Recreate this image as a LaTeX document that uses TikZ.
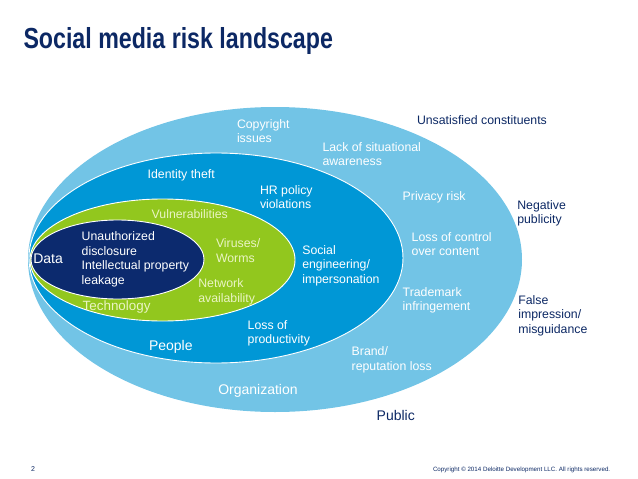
\documentclass[tikz,border=0pt]{standalone}
\usepackage{fontspec}
\setmainfont{Liberation Sans}
\definecolor{orgblue}{RGB}{114,196,230}
\definecolor{peopleblue}{RGB}{0,151,214}
\definecolor{techgreen}{RGB}{146,199,30}
\definecolor{datanavy}{RGB}{12,42,110}
\definecolor{navytext}{RGB}{12,40,100}
\definecolor{palegreen}{RGB}{234,244,196}
\newcommand{\mlines}[1]{\begin{tabular}[t]{@{}l@{}}#1\end{tabular}}
\tikzset{
  lbl/.style={anchor=base west, inner sep=0pt, outer sep=0pt, text=white,
    font=\fontsize{12.3}{14.5}\selectfont},
  biglbl/.style={lbl, font=\fontsize{14}{16}\selectfont},
  navylbl/.style={lbl, text=navytext},
  palelbl/.style={lbl, text=palegreen},
  ring/.style={draw=white, line width=0.9pt}
}
\begin{document}
\begin{tikzpicture}[x=1pt,y=-1pt]
\useasboundingbox (0,0) rectangle (638,479);
% title
\node[anchor=base west, inner sep=0pt, text=navytext,
  font=\fontsize{29}{32}\selectfont\bfseries] (title) at (23.3,48.3)
  {\scalebox{0.8}[1]{Social media risk landscape}};
% nested ellipses
\fill[orgblue] (275,259.5) ellipse [x radius=247pt, y radius=152.5pt];
\fill[peopleblue, ring] (216,258) ellipse [x radius=187pt, y radius=105pt];
\fill[techgreen, ring] (162.5,260) ellipse [x radius=132.5pt, y radius=61pt];
\fill[datanavy, ring] (117.5,259.5) ellipse [x radius=86.5pt, y radius=39.5pt];
% organization ring labels
\node[lbl] (copyright) at (237,128) {\mlines{Copyright\\issues}};
\node[lbl] (lack) at (322.5,151) {\mlines{Lack of situational\\awareness}};
\node[lbl] (privacy) at (402.7,200) {Privacy risk};
\node[lbl] (control) at (411.7,241) {\mlines{Loss of control\\over content}};
\node[lbl] (trademark) at (402.7,296) {\mlines{Trademark\\infringement}};
\node[lbl] (brand) at (351.7,355.7) {\mlines{Brand/\\reputation loss}};
\node[biglbl] (organization) at (218.3,394.3) {Organization};
% people ring labels
\node[lbl] (identity) at (147.7,178.3) {Identity theft};
\node[lbl] (hr) at (260,194.3) {\mlines{HR policy\\violations}};
\node[lbl] (social) at (302.3,254.3) {\mlines{Social\\engineering/\\impersonation}};
\node[lbl] (productivity) at (247.7,329.3) {\mlines{Loss of\\productivity}};
\node[biglbl] (people) at (149,350) {People};
% technology ring labels
\node[palelbl] (vuln) at (151.7,218.5) {Vulnerabilities};
\node[palelbl] (viruses) at (216,247.7) {\mlines{Viruses/\\Worms}};
\node[palelbl] (network) at (198.3,287.7) {\mlines{Network\\availability}};
\node[palelbl, font=\fontsize{13.4}{15}\selectfont] (technology) at (82.7,310.7) {Technology};
% data labels
\node[lbl] (unauth) at (81.7,240.7) {\mlines{Unauthorized\\disclosure\\Intellectual property\\leakage}};
\node[biglbl] (data) at (33.3,263.3) {Data};
% public labels
\node[navylbl] (unsatisfied) at (417,124.3) {Unsatisfied constituents};
\node[navylbl] (negative) at (517.3,209) {\mlines{Negative\\publicity}};
\node[navylbl] (false) at (518.3,304.3) {\mlines{False\\impression/\\misguidance}};
\node[navylbl, font=\fontsize{14}{16}\selectfont] (public) at (376.7,420.7) {Public};
% footer
\node[navylbl, font=\fontsize{7}{8}\selectfont] (page) at (31,471) {2};
\node[navylbl, font=\fontsize{6.2}{7}\selectfont] (copy) at (433,471.5)
  {Copyright © 2014 Deloitte Development LLC. All rights reserved.};
\end{tikzpicture}
\end{document}
